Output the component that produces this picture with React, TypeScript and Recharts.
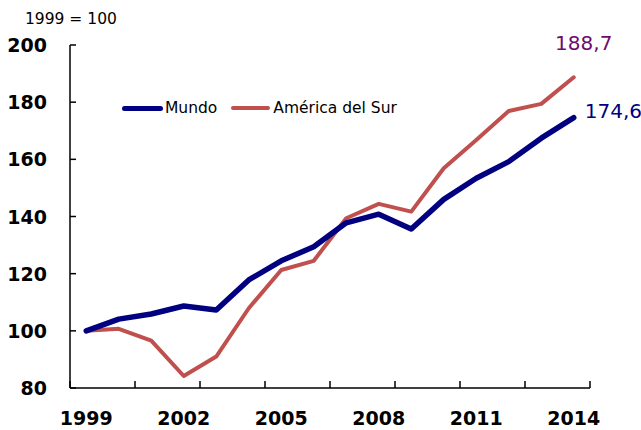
import React from "react";
import { LineChart, Line, XAxis, YAxis, Legend, LabelList } from "recharts";

const years = [
  "1999", "2000", "2001", "2002", "2003", "2004", "2005", "2006",
  "2007", "2008", "2009", "2010", "2011", "2012", "2013", "2014",
];
const mundo = [
  100, 104.1, 105.9, 108.7, 107.3, 117.8, 124.5, 129.4,
  137.8, 140.8, 135.6, 146.0, 153.4, 159.2, 167.4, 174.6,
];
const sur = [
  100, 100.7, 96.6, 84.2, 91.0, 107.9, 121.3, 124.5,
  139.4, 144.4, 141.7, 156.9, 166.8, 176.9, 179.4, 188.7,
];
const yTicks = [80, 100, 120, 140, 160, 180, 200];

const data = years.map((year, i) => ({ year, mundo: mundo[i], sur: sur[i] }));

const FONT = "'DejaVu Sans', Tahoma, sans-serif";
const NAVY = "#000080";
const RED = "#C0504D";
const PURPLE = "#6E0B6E";

// half of one category band (plot width 520 / 16 years)
const HALF_BAND = 520 / years.length / 2;

const XTick = (props: any) => {
  const { x, y, index, payload } = props;
  const marks: React.ReactNode[] = [];
  if (index % 2 === 0) {
    marks.push(
      <line key="l" x1={x - HALF_BAND} x2={x - HALF_BAND} y1={y} y2={y - 7} stroke="#000" strokeWidth={1.5} />
    );
  }
  if (index === years.length - 1) {
    marks.push(
      <line key="r" x1={x + HALF_BAND} x2={x + HALF_BAND} y1={y} y2={y - 7} stroke="#000" strokeWidth={1.5} />
    );
  }
  return (
    <g>
      {marks}
      {index % 3 === 0 && (
        <text x={x} y={y + 37} textAnchor="middle" fontFamily={FONT} fontWeight="bold" fontSize={19} fill="#000">
          {payload.value}
        </text>
      )}
    </g>
  );
};

const YTick = (props: any) => {
  const { x, y, payload } = props;
  return (
    <g>
      <line x1={x} x2={x + 6} y1={y} y2={y} stroke="#000" strokeWidth={1.5} />
      <text x={x - 23} y={y + 7} textAnchor="end" fontFamily={FONT} fontWeight="bold" fontSize={19} fill="#000">
        {payload.value}
      </text>
    </g>
  );
};

const LegendContent = () => (
  <div style={{ display: "flex", alignItems: "center", fontFamily: FONT, fontSize: 15.5, color: "#000" }}>
    <span style={{ display: "inline-block", width: 41, height: 5, borderRadius: 3, background: NAVY }} />
    <span style={{ marginLeft: 2, marginRight: 14 }}>Mundo</span>
    <span style={{ display: "inline-block", width: 39, height: 4, borderRadius: 2, background: RED }} />
    <span style={{ marginLeft: 3 }}>América del Sur</span>
  </div>
);

const endLabel = (color: string, dx: number, dy: number, anchor: string) => (props: any) => {
  const { x, y, index, value } = props;
  if (index !== years.length - 1) return null;
  return (
    <text x={x + dx} y={y + dy} textAnchor={anchor} fontFamily={FONT} fontSize={20} fill={color}>
      {String(value).replace(".", ",")}
    </text>
  );
};

export default function App() {
  return (
    <div style={{ position: "fixed", left: 0, top: 0, width: 641, height: 430, background: "#fff" }}>
      <div style={{ position: "absolute", left: 25, top: 10, fontFamily: FONT, fontSize: 15.5, color: "#000", zIndex: 2 }}>
        1999 = 100
      </div>
      <LineChart width={641} height={430} data={data} margin={{ top: 45, right: 51, bottom: 0, left: 0 }}>
        <XAxis
          dataKey="year"
          interval={0}
          height={42}
          padding={{ left: HALF_BAND, right: HALF_BAND }}
          tickLine={false}
          tickSize={0}
          tickMargin={0}
          tick={<XTick />}
          axisLine={{ stroke: "#000", strokeWidth: 1.5 }}
        />
        <YAxis
          width={70}
          domain={[80, 200]}
          ticks={yTicks}
          interval={0}
          tickLine={false}
          tickSize={0}
          tickMargin={0}
          tick={<YTick />}
          axisLine={{ stroke: "#000", strokeWidth: 1.5 }}
        />
        <Legend
          layout="horizontal"
          verticalAlign="middle"
          align="center"
          content={<LegendContent />}
          wrapperStyle={{ top: 99, left: 122, width: "auto" }}
        />
        <Line
          dataKey="sur"
          stroke={RED}
          strokeWidth={4}
          dot={false}
          strokeLinecap="round"
          strokeLinejoin="round"
          isAnimationActive={false}
        >
          <LabelList dataKey="sur" content={endLabel(PURPLE, 10, -27, "middle")} />
        </Line>
        <Line
          dataKey="mundo"
          stroke={NAVY}
          strokeWidth={5.5}
          dot={false}
          strokeLinecap="round"
          strokeLinejoin="round"
          isAnimationActive={false}
        >
          <LabelList dataKey="mundo" content={endLabel(NAVY, 11, 0, "start")} />
        </Line>
      </LineChart>
    </div>
  );
}
